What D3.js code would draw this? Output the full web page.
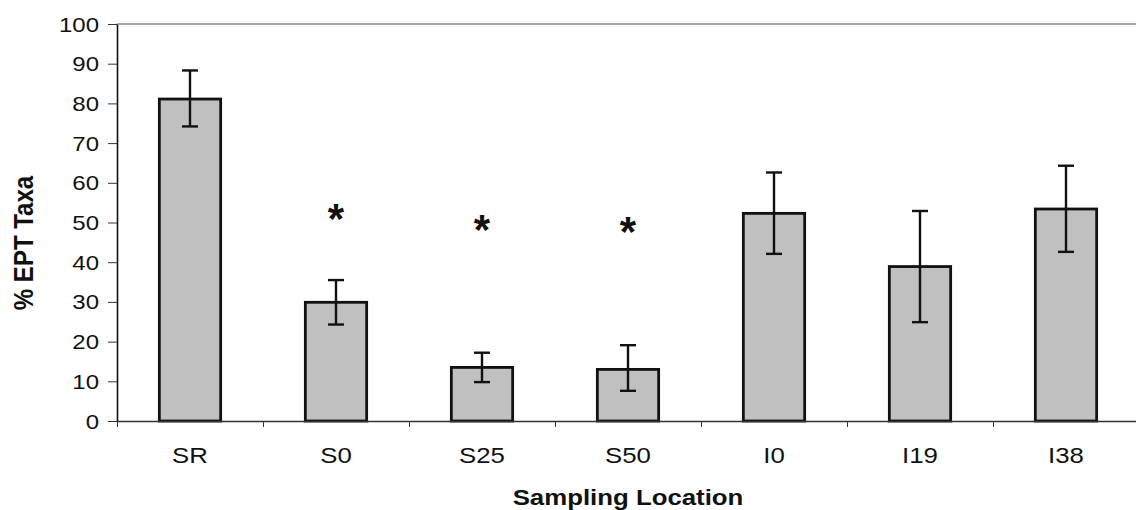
<!DOCTYPE html>
<html lang="en">
<head>
    <meta charset="UTF-8">
    <title>% EPT Taxa by Sampling Location</title>
    <script src="https://d3js.org/d3.v7.min.js"></script>
    <style>
        body {
            margin: 0;
            background-color: #ffffff;
            font-family: 'Liberation Sans', Arial, sans-serif;
        }
        .bar {
            fill: #c0c0c0;
            stroke: #111;
            stroke-width: 2.8px;
        }
        .err {
            stroke: #111;
            stroke-width: 2.4px;
        }
    </style>
</head>
<body>
    <div id="chart"></div>
    <script>
        // Data
        const locations = ["SR", "S0", "S25", "S50", "I0", "I19", "I38"];
        const eptMean = [81.1, 29.9, 13.5, 13.0, 52.3, 38.9, 53.4];
        const errUpper = [88.3, 35.5, 17.2, 19.1, 62.6, 52.9, 64.3];
        const errLower = [74.2, 24.3, 9.8, 7.6, 42.1, 24.9, 42.6];
        const starLocations = ["S0", "S25", "S50"];
        const starHeights = [52.0, 49.1, 48.5];
        const yTicks = [0, 10, 20, 30, 40, 50, 60, 70, 80, 90, 100];

        const W = 1136, H = 510;
        const plotLeft = 117, plotRight = 1139, plotTop = 24, plotBottom = 421;
        const stretch = "scale(1.2,1)"; // text in the scan is a bit wide

        const svg = d3.select("#chart")
            .append("svg")
            .attr("width", W)
            .attr("height", H);

        // Scales
        const x = d3.scaleBand()
            .domain(locations)
            .range([plotLeft, plotRight])
            .paddingInner(0.58)
            .paddingOuter(0.29);
        const xEdge = d3.scaleLinear().domain([0, locations.length]).range([plotLeft, plotRight]);
        const y = d3.scaleLinear().domain([0, 100]).range([plotBottom, plotTop]);

        // Top frame line
        svg.append("line")
            .attr("x1", plotLeft).attr("x2", W)
            .attr("y1", y(100)).attr("y2", y(100))
            .attr("stroke", "#555")
            .attr("stroke-width", 1.2);

        // Bars
        const rows = locations.map((loc, i) => ({ loc, v: eptMean[i], hi: errUpper[i], lo: errLower[i] }));

        svg.selectAll(".bar")
            .data(rows)
            .enter()
            .append("rect")
            .attr("class", "bar")
            .attr("x", d => x(d.loc))
            .attr("y", d => y(d.v))
            .attr("width", x.bandwidth())
            .attr("height", d => y(0) - y(d.v));

        // Error bars
        const cap = 8;
        const mid = d => x(d.loc) + x.bandwidth() / 2;
        const eb = svg.selectAll(".eb").data(rows).enter().append("g").attr("class", "eb");
        eb.append("line").attr("class", "err")
            .attr("x1", mid).attr("x2", mid)
            .attr("y1", d => y(d.hi)).attr("y2", d => y(d.lo));
        eb.append("line").attr("class", "err")
            .attr("x1", d => mid(d) - cap).attr("x2", d => mid(d) + cap)
            .attr("y1", d => y(d.hi)).attr("y2", d => y(d.hi));
        eb.append("line").attr("class", "err")
            .attr("x1", d => mid(d) - cap).attr("x2", d => mid(d) + cap)
            .attr("y1", d => y(d.lo)).attr("y2", d => y(d.lo));

        // Significance asterisks
        svg.selectAll(".star")
            .data(starLocations.map((loc, i) => ({ loc, h: starHeights[i] })))
            .enter()
            .append("text")
            .attr("class", "star")
            .attr("transform", d => `translate(${mid(d)},${y(d.h) + 18})`)
            .attr("text-anchor", "middle")
            .style("font-size", "42px")
            .style("font-weight", "bold")
            .attr("fill", "#111")
            .text("*");

        // Y axis
        const yAxis = svg.append("g")
            .attr("transform", `translate(${plotLeft},0)`)
            .call(d3.axisLeft(y).tickValues(yTicks).tickSize(9).tickSizeOuter(0));
        yAxis.select(".domain").attr("stroke", "#111").attr("stroke-width", 1.6);
        yAxis.selectAll(".tick line").attr("stroke", "#333");
        yAxis.selectAll(".tick text")
            .attr("x", 0)
            .attr("dy", "0.35em")
            .attr("transform", `translate(-18,0) ${stretch}`)
            .attr("fill", "#111")
            .style("font-family", "'Liberation Sans', Arial, sans-serif")
            .style("font-size", "20px");

        // X axis: labels centred on bars, ticks between categories
        const xAxis = svg.append("g")
            .attr("transform", `translate(0,${plotBottom})`)
            .call(d3.axisBottom(x).tickSize(0).tickSizeOuter(0));
        xAxis.select(".domain").remove();
        xAxis.selectAll(".tick text")
            .attr("y", 0)
            .attr("dy", 0)
            .attr("transform", `translate(0,42) ${stretch}`)
            .attr("fill", "#111")
            .style("font-family", "'Liberation Sans', Arial, sans-serif")
            .style("font-size", "21.5px");

        const xEdges = svg.append("g")
            .attr("transform", `translate(0,${plotBottom})`)
            .call(d3.axisBottom(xEdge).tickValues(d3.range(0, locations.length + 1)).tickSize(6).tickSizeOuter(0).tickFormat(""));
        xEdges.select(".domain").attr("stroke", "#333").attr("stroke-width", 1.3);
        xEdges.selectAll(".tick line").attr("stroke", "#333");

        // Axis titles
        svg.append("text")
            .attr("transform", `translate(${(plotLeft + plotRight) / 2},505) ${stretch}`)
            .attr("text-anchor", "middle")
            .style("font-size", "21.5px")
            .style("font-weight", "bold")
            .attr("fill", "#111")
            .text("Sampling Location");

        svg.append("text")
            .attr("transform", "translate(33,243) scale(1.15,1) rotate(-90)")
            .attr("text-anchor", "middle")
            .style("font-size", "24px")
            .style("font-weight", "bold")
            .attr("fill", "#111")
            .text("% EPT Taxa");
    </script>
</body>
</html>
